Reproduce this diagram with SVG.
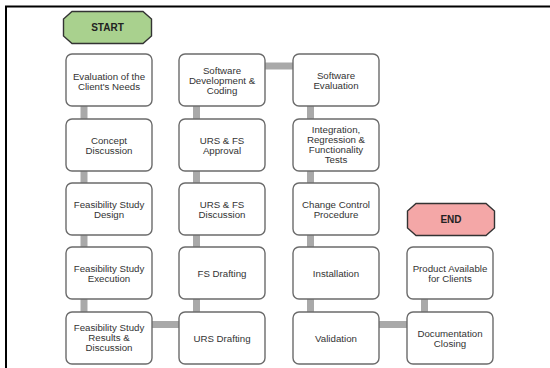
<svg xmlns="http://www.w3.org/2000/svg" width="550" height="368" viewBox="0 0 550 368">
<style>
.box{fill:#fff;stroke:#6b6b6b;stroke-width:1.4}
.t{font-family:"Liberation Sans",Arial,sans-serif;font-size:9.7px;fill:#333;text-anchor:middle}
.tb{font-family:"Liberation Sans",Arial,sans-serif;font-size:10px;font-weight:bold;fill:#222;text-anchor:middle}
.c{stroke:#a9a9a9;stroke-width:7;fill:none}
.term{stroke:#333;stroke-width:1.4}
</style>
<rect width="550" height="368" fill="#fff"/>
<path d="M6 368 V6.5 H550" fill="none" stroke="#000" stroke-width="2"/>
<g id="connectors">
<line class="c" x1="84" y1="100" x2="84" y2="125"/>
<line class="c" x1="84" y1="165" x2="84" y2="189"/>
<line class="c" x1="84" y1="229" x2="84" y2="253"/>
<line class="c" x1="84" y1="293" x2="84" y2="318"/>
<line class="c" x1="196.5" y1="100" x2="196.5" y2="125"/>
<line class="c" x1="196.5" y1="165" x2="196.5" y2="189"/>
<line class="c" x1="196.5" y1="229" x2="196.5" y2="253"/>
<line class="c" x1="196.5" y1="293" x2="196.5" y2="318"/>
<line class="c" x1="310.5" y1="100" x2="310.5" y2="125"/>
<line class="c" x1="310.5" y1="165" x2="310.5" y2="189"/>
<line class="c" x1="310.5" y1="229" x2="310.5" y2="253"/>
<line class="c" x1="310.5" y1="293" x2="310.5" y2="318"/>
<line class="c" x1="424.5" y1="293" x2="424.5" y2="318"/>
<line class="c" x1="146" y1="324.5" x2="185" y2="324.5"/>
<line class="c" x1="259" y1="66" x2="299" y2="66"/>
<line class="c" x1="373" y1="324.5" x2="413" y2="324.5"/>
</g>
<g id="start">
<polygon class="term" fill="#a9d18e" points="72,11.5 143,11.5 151.5,19 151.5,36 143,43.5 72,43.5 63.5,36 63.5,19"/>
<text class="tb" x="107.5" y="31">START</text>
</g>
<g id="end">
<polygon class="term" fill="#f4a7a7" points="416,203.5 486,203.5 494.5,211 494.5,228 486,235.5 416,235.5 407.5,228 407.5,211"/>
<text class="tb" x="451" y="223">END</text>
</g>
<g id="n1"><rect class="box" x="66" y="54" width="86" height="52" rx="6"/><text class="t" x="109" y="79.5">Evaluation of the</text><text class="t" x="109" y="89.5">Client's Needs</text></g>
<g id="n2"><rect class="box" x="66" y="119" width="86" height="52" rx="6"/><text class="t" x="109" y="143.5">Concept</text><text class="t" x="109" y="153.5">Discussion</text></g>
<g id="n3"><rect class="box" x="66" y="183" width="86" height="52" rx="6"/><text class="t" x="109" y="207.5">Feasibility Study</text><text class="t" x="109" y="217.5">Design</text></g>
<g id="n4"><rect class="box" x="66" y="247" width="86" height="52" rx="6"/><text class="t" x="109" y="271.5">Feasibility Study</text><text class="t" x="109" y="281.5">Execution</text></g>
<g id="n5"><rect class="box" x="66" y="312" width="86" height="52" rx="6"/><text class="t" x="109" y="330.5">Feasibility Study</text><text class="t" x="109" y="340.5">Results &amp;</text><text class="t" x="109" y="350.5">Discussion</text></g>
<g id="n6"><rect class="box" x="179" y="54" width="86" height="52" rx="6"/><text class="t" x="222" y="73.5">Software</text><text class="t" x="222" y="83.5">Development &amp;</text><text class="t" x="222" y="93.5">Coding</text></g>
<g id="n7"><rect class="box" x="179" y="119" width="86" height="52" rx="6"/><text class="t" x="222" y="143.5">URS &amp; FS</text><text class="t" x="222" y="153.5">Approval</text></g>
<g id="n8"><rect class="box" x="179" y="183" width="86" height="52" rx="6"/><text class="t" x="222" y="207.5">URS &amp; FS</text><text class="t" x="222" y="217.5">Discussion</text></g>
<g id="n9"><rect class="box" x="179" y="247" width="86" height="52" rx="6"/><text class="t" x="222" y="276.5">FS Drafting</text></g>
<g id="n10"><rect class="box" x="179" y="312" width="86" height="52" rx="6"/><text class="t" x="222" y="341.5">URS Drafting</text></g>
<g id="n11"><rect class="box" x="293" y="54" width="86" height="52" rx="6"/><text class="t" x="336" y="78.5">Software</text><text class="t" x="336" y="88.5">Evaluation</text></g>
<g id="n12"><rect class="box" x="293" y="119" width="86" height="52" rx="6"/><text class="t" x="336" y="132.5">Integration,</text><text class="t" x="336" y="142.5">Regression &amp;</text><text class="t" x="336" y="152.5">Functionality</text><text class="t" x="336" y="162.5">Tests</text></g>
<g id="n13"><rect class="box" x="293" y="183" width="86" height="52" rx="6"/><text class="t" x="336" y="207.5">Change Control</text><text class="t" x="336" y="217.5">Procedure</text></g>
<g id="n14"><rect class="box" x="293" y="247" width="86" height="52" rx="6"/><text class="t" x="336" y="276.5">Installation</text></g>
<g id="n15"><rect class="box" x="293" y="312" width="86" height="52" rx="6"/><text class="t" x="336" y="341.5">Validation</text></g>
<g id="n16"><rect class="box" x="407" y="247" width="86" height="52" rx="6"/><text class="t" x="450" y="271.5">Product Available</text><text class="t" x="450" y="281.5">for Clients</text></g>
<g id="n17"><rect class="box" x="407" y="312" width="86" height="52" rx="6"/><text class="t" x="450" y="336.5">Documentation</text><text class="t" x="450" y="346.5">Closing</text></g>
</svg>
